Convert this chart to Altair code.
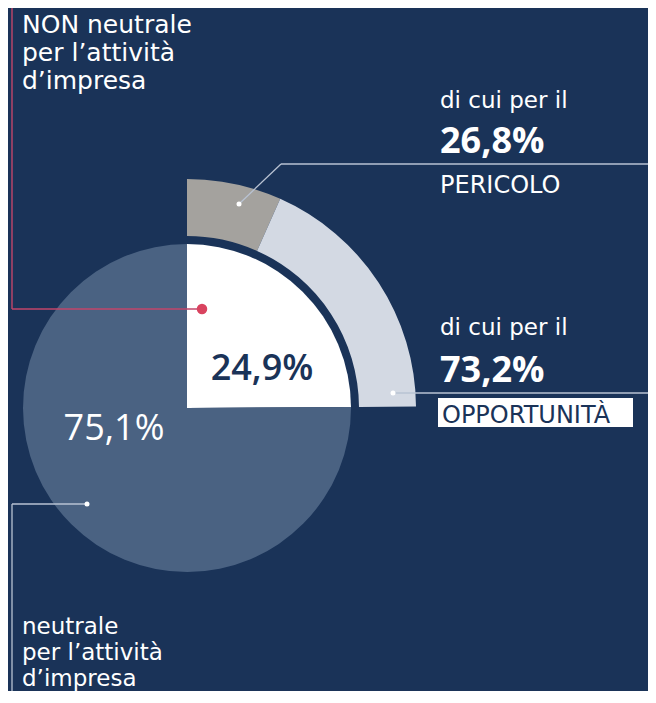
import math
import altair as alt
import pandas as pd

# ---- data ----
main_labels = ["24,9%", "75,1%"]
main_values = [24.9, 75.1]
main_names = ["NON neutrale", "neutrale"]
sub_labels = ["PERICOLO", "OPPORTUNITÀ"]
sub_values = [26.8, 73.2]
sub_pct = ["26,8%", "73,2%"]
intro = "di cui per il"
non_neutral_lines = ["NON neutrale", "per l’attività", "d’impresa"]
neutral_lines = ["neutrale", "per l’attività", "d’impresa"]

# ---- style ----
BG = "#1a3358"
FONT = "DejaVu Sans"
NUMFONT = "Open Sans"
M = 8  # page margin


def px(v):
    return v - M


CX, CY = px(187), px(408)

pie_df = pd.DataFrame({"name": main_names, "label": main_labels,
                       "value": main_values, "ord": [0, 1]})
ring_df = pd.DataFrame({"name": sub_labels, "value": sub_values, "ord": [0, 1]})

pie = alt.Chart(pie_df).mark_arc(outerRadius=164, stroke=None).encode(
    theta=alt.Theta("value:Q", stack=True),
    order=alt.Order("ord:Q"),
    color=alt.Color("name:N", scale=alt.Scale(domain=main_names,
                                              range=["#ffffff", "#4a6282"]), legend=None),
    x=alt.value(CX), y=alt.value(CY),
)

ring_span = 2 * math.pi * main_values[0] / 100.0
ring = alt.Chart(ring_df).mark_arc(innerRadius=172, outerRadius=229, stroke=None).encode(
    theta=alt.Theta("value:Q", stack=True, scale=alt.Scale(range=[0, ring_span])),
    order=alt.Order("ord:Q"),
    color=alt.Color("name:N", scale=alt.Scale(domain=sub_labels,
                                              range=["#a4a29e", "#d3d9e3"]), legend=None),
    x=alt.value(CX), y=alt.value(CY),
)

arcs = alt.layer(pie, ring).resolve_scale(theta="independent", color="independent")

one = pd.DataFrame({"k": [0]})


def rule(x1, y1, x2, y2, color, w=1.3):
    return alt.Chart(one).mark_rule(color=color, strokeWidth=w).encode(
        x=alt.value(px(x1)), y=alt.value(px(y1)),
        x2=alt.value(px(x2)), y2=alt.value(px(y2)))


def dot(x, y, color, size):
    return alt.Chart(one).mark_point(filled=True, color=color, size=size, opacity=1).encode(
        x=alt.value(px(x)), y=alt.value(px(y)))


def text(t, x, y, size, color="#ffffff", weight="normal", align="left", font=FONT):
    return alt.Chart(pd.DataFrame({"t": [t]})).mark_text(
        font=font, fontSize=size, fontWeight=weight, color=color,
        align=align, baseline="alphabetic").encode(
        x=alt.value(px(x)), y=alt.value(px(y)), text="t:N")


RED = "#d9435f"
LINE = "#b9c3d3"

layers = [arcs]

# leader lines
layers += [
    rule(12, 0, 12, 309, "#c2466a", 1.4),
    rule(12, 309, 202, 309, "#c2466a", 1.4),
    dot(202, 309, RED, 110),
    rule(239, 204, 281, 164, LINE),
    rule(281, 164, 660, 164, LINE),
    dot(239, 204, "#ffffff", 25),
    rule(393, 393, 660, 393, LINE),
    dot(393, 393, "#ffffff", 25),
    rule(87, 504, 12, 504, LINE),
    rule(12, 504, 12, 710, LINE),
    dot(87, 504, "#ffffff", 25),
]

# OPPORTUNITÀ highlight box
layers.append(alt.Chart(one).mark_rect(color="#ffffff").encode(
    x=alt.value(px(438)), x2=alt.value(px(633)),
    y=alt.value(px(398)), y2=alt.value(px(427))))

# texts
for i, line in enumerate(non_neutral_lines):
    layers.append(text(line, 22, 33 + i * 28, 25))
for i, line in enumerate(neutral_lines):
    layers.append(text(line, 22, 634 + i * 26, 23))

layers += [
    text(intro, 440, 108, 23),
    text(sub_pct[0], 440, 153, 36, weight="bold", font=NUMFONT),
    text(sub_labels[0], 440, 193, 24),
    text(intro, 440, 335, 23),
    text(sub_pct[1], 440, 382, 36, weight="bold", font=NUMFONT),
    text(sub_labels[1], 442, 423, 24, color="#1a3358"),
    text(main_labels[0], 262, 380, 36, color="#1a3358", weight=600, align="center", font=NUMFONT),
    text(main_labels[1], 114, 440, 36, weight=500, align="center", font=NUMFONT),
]

chart = alt.layer(*layers).properties(
    width=640, height=683, background=BG, padding=0,
    autosize=alt.AutoSizeParams(type="none"),
).configure_view(stroke=None)

chart.save("out.html", embed_options={"renderer": "svg", "actions": False})
